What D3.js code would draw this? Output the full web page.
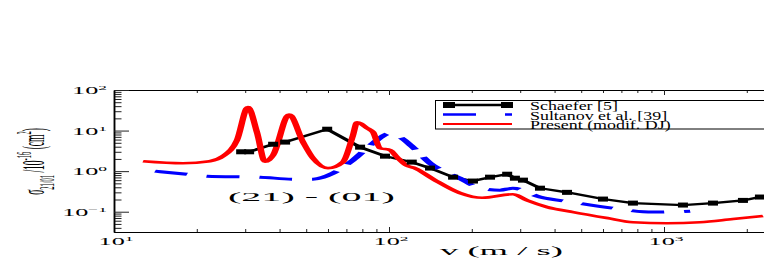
<!DOCTYPE html>
<html>
<head>
<meta charset="utf-8">
<script src="https://cdn.jsdelivr.net/npm/d3@7"></script>
<style>
    body { margin: 0; background: #fff; }
    svg { display: block; }
    text { font-family: "Liberation Serif", "DejaVu Serif", serif; fill: #000; }
</style>
</head>
<body>
<svg id="chart" width="764" height="264"></svg>
<script>
(function () {
    'use strict';

    // Schaefer [5]
    var schaeferV = [29, 31, 37.9, 41.9, 59.6, 78.5, 96.7, 121, 141, 171, 202, 233, 269, 287, 307, 354, 444, 600, 771, 1172, 1507, 1937, 2233];
    var schaeferS = [3.0, 3.0, 4.6, 5.2, 10.8, 3.9, 2.34, 1.67, 1.19, 0.71, 0.57, 0.71, 0.84, 0.67, 0.60, 0.38, 0.30, 0.205, 0.163, 0.146, 0.163, 0.19, 0.23];

    // Sultanov et al. [39]
    var sultanovV = [14.1, 18.4, 21.8, 34.0, 44.8, 52.9, 62.5, 74.0, 87.5, 100.9, 109.6, 122, 141, 181, 214, 253, 282, 354, 467, 653, 912, 1245];
    var sultanovS = [1.0, 0.84, 0.75, 0.71, 0.635, 0.635, 0.89, 1.87, 4.9, 8.6, 6.9, 3.9, 1.57, 0.67, 0.38, 0.34, 0.38, 0.23, 0.17, 0.122, 0.098, 0.103];

    // Present (modif. DJ)
    var presentV = [12.75, 17.8, 22.3, 24.9, 28.0, 30.7, 33.1, 35.4, 37.9, 43.3, 48.7, 52.9, 60.0, 68.0, 74.0, 76.5, 83.2, 87.5, 92.7, 100.9, 107, 116, 124, 145, 181, 218, 282, 318, 376, 467, 621, 771, 1026, 1352, 1782, 2291];
    var presentS = [1.76, 1.57, 1.76, 2.34, 5.8, 38, 9.1, 1.7, 2.48, 25, 5.2, 2.09, 1.19, 1.67, 7.7, 16, 11.5, 9.1, 3.7, 3.3, 2.2, 1.38, 1.19, 0.635, 0.29, 0.22, 0.27, 0.19, 0.13, 0.098, 0.070, 0.055, 0.052, 0.055, 0.066, 0.078];

    var xTickExp = [1, 2, 3];
    var yTickExp = [-1, 0, 1, 2];
    var legendLabels = ['Schaefer [5]', 'Sultanov et al. [39]', 'Present (modif. DJ)'];
    var annotation = '(21) - (01)';
    var xTitle = 'v (m / s)';

    // the original picture is stretched sideways, so everything is drawn narrow and scaled by S
    var S = 2.5;
    var left = 114, top = 90, bottom = 232;
    var serif = '"Liberation Serif", "DejaVu Serif", serif';

    var svg = d3.select('#chart');
    var x = d3.scaleLog().domain([10, 10000]).range([left, left + 3 * 275]);
    var y = d3.scaleLog().domain([Math.pow(10, -1.5), 100]).range([bottom, top]);

    function minorTicks(lo, hi) {
        var out = [];
        for (var e = lo; e < hi; e++) {
            for (var m = 2; m < 10; m++) { out.push(m * Math.pow(10, e)); }
        }
        return out;
    }
    var xMinor = minorTicks(1, 4);
    var yMinor = minorTicks(-2, 2).filter(function (v) { return v >= y.domain()[0]; });
    var xMajor = xTickExp.map(function (e) { return Math.pow(10, e); });
    var yMajor = yTickExp.map(function (e) { return Math.pow(10, e); });

    function styleAxis(g, w) {
        g.selectAll('path').attr('stroke', '#000').attr('stroke-width', w || 1);
        g.selectAll('line').attr('stroke', '#222');
    }

    // bottom and top axes
    svg.append('g').attr('transform', 'translate(0,' + bottom + ')')
        .call(d3.axisTop(x).tickValues(xMinor).tickSize(3).tickSizeOuter(0).tickFormat(''))
        .call(styleAxis);
    svg.append('g').attr('transform', 'translate(0,' + bottom + ')')
        .call(d3.axisTop(x).tickValues(xMajor).tickSize(5).tickSizeOuter(0).tickFormat(''))
        .call(styleAxis);
    svg.append('g').attr('transform', 'translate(0,' + top + ')')
        .call(d3.axisBottom(x).tickValues(xMinor).tickSize(3).tickSizeOuter(0).tickFormat(''))
        .call(styleAxis);
    svg.append('g').attr('transform', 'translate(0,' + top + ')')
        .call(d3.axisBottom(x).tickValues(xMajor).tickSize(5).tickSizeOuter(0).tickFormat(''))
        .call(styleAxis);

    // left axis
    svg.append('g').attr('transform', 'translate(' + left + ',0)')
        .call(d3.axisRight(y).tickValues(yMinor).tickSize(7.5).tickSizeOuter(0).tickFormat(''))
        .call(styleAxis, 1.5);
    svg.append('g').attr('transform', 'translate(' + left + ',0)')
        .call(d3.axisRight(y).tickValues(yMajor).tickSize(15).tickSizeOuter(0).tickFormat(''))
        .call(styleAxis, 1.5);

    // tick labels 10^n
    function powLabel(g, e, anchor) {
        var t = g.append('text').attr('text-anchor', anchor).attr('font-family', serif).style('font-size', '10.5px');
        t.append('tspan').text('10');
        t.append('tspan').attr('dy', -4).style('font-size', '7px').text(e < 0 ? '\u2212' + (-e) : e);
        return t;
    }
    xTickExp.forEach(function (e) {
        var g = svg.append('g')
            .attr('transform', 'translate(' + (x(Math.pow(10, e)) + 2) + ',' + 245 + ') scale(' + S + ',1)');
        powLabel(g, e, 'middle');
    });
    yTickExp.forEach(function (e) {
        var g = svg.append('g')
            .attr('transform', 'translate(107,' + (y(Math.pow(10, e)) + 4) + ') scale(' + S + ',1)');
        powLabel(g, e, 'end');
    });

    // stretch a text to a given on-screen width
    function fitText(t, px, py, width) {
        var len = t.node().getComputedTextLength();
        t.attr('transform', 'translate(' + px + ',' + py + ') scale(' + (width / len) + ',1)');
        return width / len;
    }

    // y title, rotated
    var yt = svg.append('g').attr('transform', 'translate(44,161.5) scale(3.3,1) rotate(-90)')
        .append('text').attr('text-anchor', 'middle').attr('font-family', serif).style('font-size', '9.5px');
    yt.append('tspan').text('\u03c3');
    yt.append('tspan').attr('dy', 3).style('font-size', '6.5px').text('21/01');
    yt.append('tspan').attr('dy', -3).text(' /10');
    yt.append('tspan').attr('dy', -4).style('font-size', '6.5px').text('-16');
    yt.append('tspan').attr('dy', 4).text(' (cm');
    yt.append('tspan').attr('dy', -4).style('font-size', '6.5px').text('2');
    yt.append('tspan').attr('dy', 4).text(')');

    // x title and annotation
    var xt = svg.append('text').attr('font-family', serif).style('font-size', '13px').text(xTitle);
    fitText(xt, 440, 255, 123);
    var an = svg.append('text').attr('font-family', serif).style('font-size', '12.5px').text(annotation);
    fitText(an, 228, 201, 167);

    // curves, drawn in a sideways-squeezed frame
    var lines = svg.append('g').attr('transform', 'scale(' + S + ',1)');

    function pts(vs, ss) { return vs.map(function (v, i) { return [v, ss[i]]; }); }
    function lineGen(curve) {
        return d3.line()
            .x(function (d) { return x(d[0]) / S; })
            .y(function (d) { return y(d[1]); })
            .curve(curve);
    }

    lines.append('path').datum(pts(schaeferV, schaeferS))
        .attr('d', lineGen(d3.curveLinear))
        .attr('fill', 'none').attr('stroke', '#000').attr('stroke-width', 2.2);
    lines.append('path').datum(pts(sultanovV, sultanovS))
        .attr('d', lineGen(d3.curveMonotoneX))
        .attr('fill', 'none').attr('stroke', '#0000ff').attr('stroke-width', 3)
        .attr('stroke-dasharray', '13.2,8');
    lines.append('path').datum(pts(presentV, presentS))
        .attr('d', lineGen(d3.curveMonotoneX))
        .attr('fill', 'none').attr('stroke', '#ff0000').attr('stroke-width', 2.6)
        .attr('stroke-linejoin', 'round');

    // Schaefer markers
    svg.append('g').selectAll('rect').data(pts(schaeferV, schaeferS)).enter().append('rect')
        .attr('x', function (d) { return x(d[0]) - 5; })
        .attr('y', function (d) { return y(d[1]) - 2.5; })
        .attr('width', 10).attr('height', 5).attr('fill', '#000');

    // legend
    var lg = svg.append('g');
    lg.append('rect').attr('x', 435.5).attr('y', 100.5).attr('width', 400).attr('height', 28.5)
        .attr('fill', '#fff').attr('stroke', '#000').attr('stroke-width', 1);
    var rows = [105, 114.5, 124];
    lg.append('line').attr('x1', 443).attr('x2', 513).attr('y1', rows[0]).attr('y2', rows[0])
        .attr('stroke', '#000').attr('stroke-width', 2.5);
    [449, 507].forEach(function (cx) {
        lg.append('rect').attr('x', cx - 6).attr('y', rows[0] - 3).attr('width', 12).attr('height', 6).attr('fill', '#000');
    });
    lg.append('line').attr('x1', 443).attr('x2', 512).attr('y1', rows[1]).attr('y2', rows[1])
        .attr('stroke', '#0000ff').attr('stroke-width', 2.5).attr('stroke-dasharray', '33,29,7,40');
    lg.append('line').attr('x1', 443).attr('x2', 512).attr('y1', rows[2]).attr('y2', rows[2])
        .attr('stroke', '#ff0000').attr('stroke-width', 2);

    var first = lg.append('text').attr('font-family', serif).style('font-size', '11.5px').text(legendLabels[0]);
    var k = fitText(first, 530, 110, 88);
    [1, 2].forEach(function (i) {
        lg.append('text').attr('font-family', serif).style('font-size', '11.5px').text(legendLabels[i])
            .attr('transform', 'translate(530,' + [110, 119.5, 128.5][i] + ') scale(' + k + ',1)');
    });
})();
</script>
</body>
</html>
